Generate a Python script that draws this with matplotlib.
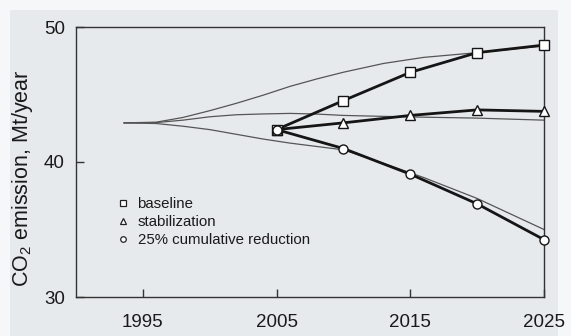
import matplotlib
matplotlib.use("Agg")
import matplotlib.pyplot as plt
from matplotlib.lines import Line2D
from matplotlib.patches import Rectangle

plt.rcParams['font.family'] = ['Liberation Sans', 'DejaVu Sans']
plt.rcParams['mathtext.fontset'] = 'custom'
plt.rcParams['mathtext.rm'] = 'Liberation Sans'
plt.rcParams['mathtext.it'] = 'Liberation Sans'

# ---- data ----
thin_years = [1993.6, 1996, 1998, 2000, 2002, 2004, 2006, 2008, 2010, 2013, 2016, 2020, 2025]
thin_upper = [42.9, 42.95, 43.3, 43.8, 44.35, 44.95, 45.6, 46.15, 46.65, 47.3, 47.75, 48.1, 48.6]
thin_middle = [42.9, 42.92, 43.1, 43.35, 43.5, 43.56, 43.6, 43.55, 43.45, 43.38, 43.32, 43.25, 43.1]
thin_lower = [42.9, 42.85, 42.65, 42.4, 42.05, 41.7, 41.4, 41.15, 40.9, 39.9, 38.85, 37.3, 35.0]

years = [2005, 2010, 2015, 2020, 2025]
baseline = [42.4, 44.55, 46.64, 48.1, 48.66]
stabilization = [42.4, 42.9, 43.45, 43.86, 43.75]
reduction = [42.4, 41.0, 39.1, 36.9, 34.25]

labels = ['baseline', 'stabilization', '25% cumulative reduction']
markers = ['s', '^', 'o']
xticks = [1995, 2005, 2015, 2025]
yticks = [30, 40, 50]

# ---- figure ----
fig = plt.figure(figsize=(5.71, 3.36), dpi=100, facecolor='#f6f7f8')
fig.patches.append(Rectangle((10 / 571, 0), 548 / 571, 326 / 336, transform=fig.transFigure,
                             facecolor='#e7eaed', edgecolor='none', zorder=-10))
ax = fig.add_axes([76 / 571, 39 / 336, 468 / 571, 270 / 336])
ax.set_facecolor('none')

thin_kw = dict(color='#555555', lw=0.9, zorder=2)
ax.plot(thin_years, thin_upper, **thin_kw)
ax.plot(thin_years, thin_middle, **thin_kw)
ax.plot(thin_years, thin_lower, **thin_kw)

for vals, m in zip([baseline, stabilization, reduction], markers):
    ax.plot(years, vals, color='#151515', lw=2.0, zorder=3)
    ax.plot(years, vals, ls='none', marker=m, ms=6.5 if m != '^' else 7, mfc='white',
            mec='#151515', mew=1.0, zorder=4, clip_on=False)

ax.set_xlim(1990, 2025)
ax.set_ylim(30, 50)
ax.set_xticks(xticks)
ax.set_yticks(yticks)
ax.tick_params(direction='in', length=6, width=1.0, color='#333333', labelsize=13.5,
               labelcolor='#1a1a1a')
ax.tick_params(axis='x', pad=12)
ax.tick_params(axis='y', pad=8)
for s in ax.spines.values():
    s.set_color('#333333')
    s.set_linewidth(1.0)

fig.text(23 / 571, 1 - 178 / 336, r'CO$_2$ emission, Mt/year', rotation=90, ha='center',
         va='center', fontsize=15.5, color='#1a1a1a')

handles = [Line2D([], [], ls='none', marker=m, ms=4, mfc='white', mec='#222222', mew=0.9)
           for m in markers]
ax.legend(handles, labels, loc='upper left', bbox_to_anchor=(109 / 571, 1 - 190 / 336),
          bbox_transform=fig.transFigure, frameon=False, fontsize=10.8, handlelength=0.8,
          handletextpad=0.6, labelspacing=0.26, borderpad=0, labelcolor='#1a1a1a')

fig.savefig('out.png', dpi=100, facecolor=fig.get_facecolor())
